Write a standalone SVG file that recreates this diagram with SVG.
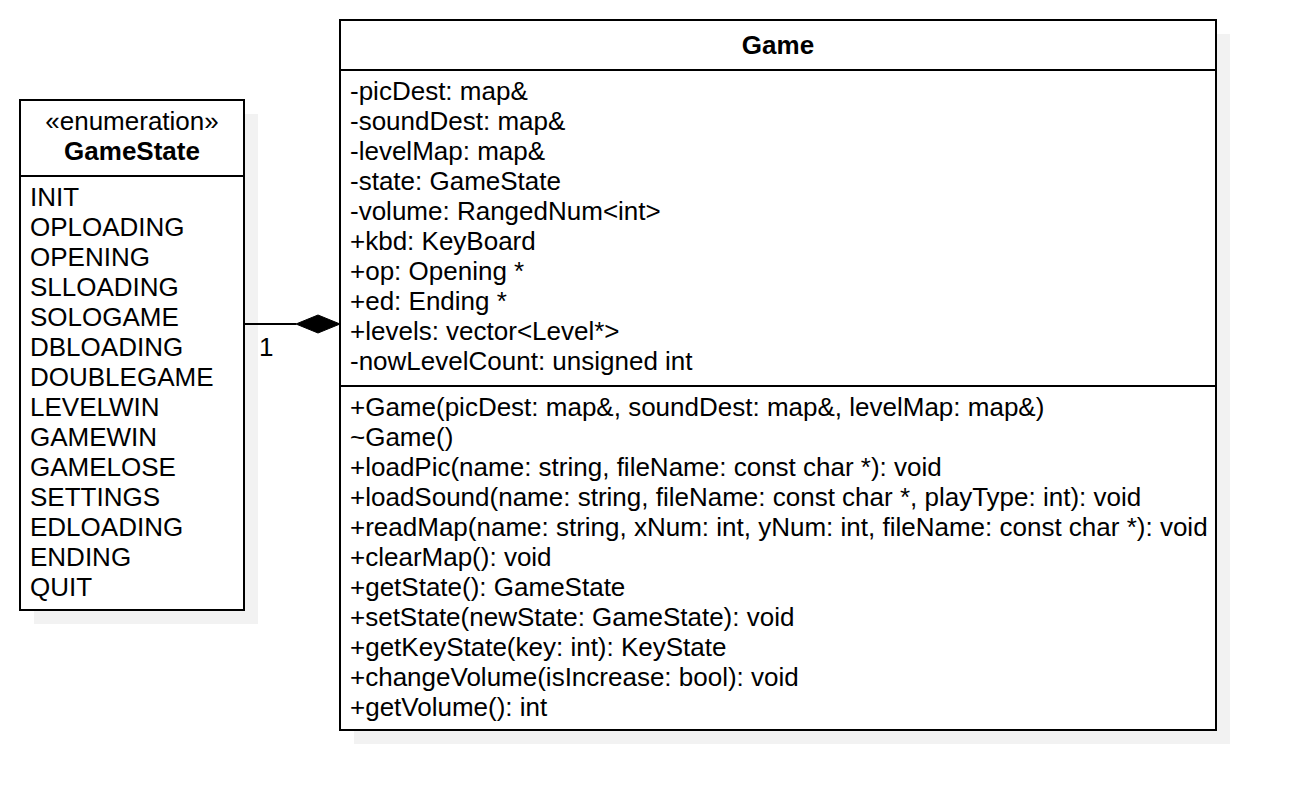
<svg xmlns="http://www.w3.org/2000/svg" width="1294" height="810" viewBox="0 0 1294 810">
<style>
.box{fill:#ffffff;stroke:#000000;stroke-width:2}
.shadow{fill:#f2f2f2;stroke:none}
.div{stroke:#000000;stroke-width:2}
text{font-family:"Liberation Sans",Arial,sans-serif;font-size:26px;fill:#000000}
.b{font-weight:bold;text-anchor:middle}
.c{text-anchor:middle}
</style>
<rect width="1294" height="810" fill="#ffffff"/>
<g id="GameState">
<rect class="shadow" x="34" y="114" width="224" height="510"/>
<rect class="box" x="20" y="100" width="224" height="510"/>
<line class="div" x1="20" y1="176" x2="244" y2="176"/>
<text class="c" x="132" y="130">«enumeration»</text>
<text class="b" x="132" y="160">GameState</text>
<text x="30" y="206">INIT</text>
<text x="30" y="236">OPLOADING</text>
<text x="30" y="266">OPENING</text>
<text x="30" y="296">SLLOADING</text>
<text x="30" y="326">SOLOGAME</text>
<text x="30" y="356">DBLOADING</text>
<text x="30" y="386">DOUBLEGAME</text>
<text x="30" y="416">LEVELWIN</text>
<text x="30" y="446">GAMEWIN</text>
<text x="30" y="476">GAMELOSE</text>
<text x="30" y="506">SETTINGS</text>
<text x="30" y="536">EDLOADING</text>
<text x="30" y="566">ENDING</text>
<text x="30" y="596">QUIT</text>
</g>
<g id="Game">
<rect class="shadow" x="354" y="34" width="876" height="710"/>
<rect class="box" x="340" y="20" width="876" height="710"/>
<line class="div" x1="340" y1="70" x2="1216" y2="70"/>
<line class="div" x1="340" y1="386" x2="1216" y2="386"/>
<text class="b" x="778" y="54">Game</text>
<text x="350" y="100">-picDest: map&amp;</text>
<text x="350" y="130">-soundDest: map&amp;</text>
<text x="350" y="160">-levelMap: map&amp;</text>
<text x="350" y="190">-state: GameState</text>
<text x="350" y="220">-volume: RangedNum&lt;int&gt;</text>
<text x="350" y="250">+kbd: KeyBoard</text>
<text x="350" y="280">+op: Opening *</text>
<text x="350" y="310">+ed: Ending *</text>
<text x="350" y="340">+levels: vector&lt;Level*&gt;</text>
<text x="350" y="370">-nowLevelCount: unsigned int</text>
<text x="350" y="416">+Game(picDest: map&amp;, soundDest: map&amp;, levelMap: map&amp;)</text>
<text x="350" y="446">~Game()</text>
<text x="350" y="476">+loadPic(name: string, fileName: const char *): void</text>
<text x="350" y="506">+loadSound(name: string, fileName: const char *, playType: int): void</text>
<text x="350" y="536">+readMap(name: string, xNum: int, yNum: int, fileName: const char *): void</text>
<text x="350" y="566">+clearMap(): void</text>
<text x="350" y="596">+getState(): GameState</text>
<text x="350" y="626">+setState(newState: GameState): void</text>
<text x="350" y="656">+getKeyState(key: int): KeyState</text>
<text x="350" y="686">+changeVolume(isIncrease: bool): void</text>
<text x="350" y="716">+getVolume(): int</text>
</g>
<g id="connectors">
<line x1="244" y1="324" x2="296" y2="324" stroke="#000000" stroke-width="2"/>
<polygon points="296,324 318,315 340,324 318,333" fill="#000000" stroke="#000000" stroke-width="1"/>
<text x="259" y="356">1</text>
</g>
</svg>
